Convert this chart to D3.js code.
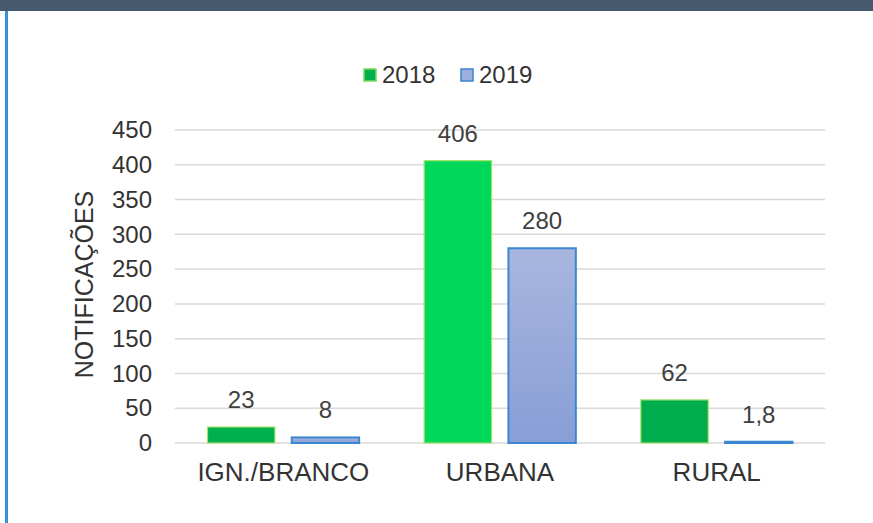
<!DOCTYPE html>
<html>
<head>
<meta charset="utf-8">
<script src="https://cdn.jsdelivr.net/npm/d3@7/dist/d3.min.js"></script>
<style>
  body { margin: 0; background: #fff; }
  svg { display: block; font-family: "Liberation Sans", Arial, sans-serif; }
</style>
</head>
<body>
<div id="chart"></div>
<script>
// Data
var categories = ["IGN./BRANCO", "URBANA", "RURAL"];
var series = ["2018", "2019"];
var values2018 = [23, 406, 62];
var values2019 = [8, 280, 1.8];
var labels2018 = ["23", "406", "62"];
var labels2019 = ["8", "280", "1,8"];
var yTicks = [0, 50, 100, 150, 200, 250, 300, 350, 400, 450];

var W = 873, H = 523;
var margin = { top: 130, right: 48, bottom: 80, left: 175 },
    width = W - margin.left - margin.right,
    height = H - margin.top - margin.bottom;

var svg = d3.select('#chart').append('svg')
    .attr('width', W)
    .attr('height', H);

// gradient for the 2019 bars
var defs = svg.append('defs');
var grad = defs.append('linearGradient')
    .attr('id', 'blueGrad')
    .attr('x1', 0).attr('y1', 0).attr('x2', 0).attr('y2', 1);
grad.append('stop').attr('offset', '0%').attr('stop-color', '#a8b6df');
grad.append('stop').attr('offset', '100%').attr('stop-color', '#889ed6');

// page frame: dark caption strip and blue left rule
svg.append('rect')
    .attr('x', 0).attr('y', 0)
    .attr('width', W).attr('height', 11)
    .attr('fill', '#465a6e');
svg.append('rect')
    .attr('x', 5).attr('y', 11)
    .attr('width', 3).attr('height', H - 11)
    .attr('fill', '#3591d8');

var g = svg.append('g')
    .attr('transform', 'translate(' + margin.left + ',' + margin.top + ')');

// Scales
var x0 = d3.scaleBand().domain(categories).range([0, width])
    .paddingInner(0.3).paddingOuter(0.15);
var x1 = d3.scaleBand().domain(series).range([0, x0.bandwidth()])
    .paddingInner(0.2);
var y = d3.scaleLinear().domain([0, 450]).range([height, 0]);

// Gridlines
g.selectAll('.grid')
    .data(yTicks)
    .enter().append('line')
    .attr('x1', 0).attr('x2', width)
    .attr('y1', function (d) { return y(d); })
    .attr('y2', function (d) { return y(d); })
    .attr('stroke', '#d9d9d9')
    .attr('stroke-width', 1.5);

// Y axis labels
var yAxis = g.append('g')
    .call(d3.axisLeft(y).tickValues(yTicks).tickSize(0).tickPadding(23));
yAxis.select('.domain').remove();
yAxis.selectAll('text')
    .style('font-size', '24px')
    .attr('fill', '#333');

// X axis labels
var xAxis = g.append('g')
    .attr('transform', 'translate(0,' + height + ')')
    .call(d3.axisBottom(x0).tickSize(0).tickPadding(20));
xAxis.select('.domain').remove();
xAxis.selectAll('text')
    .style('font-size', '26px')
    .attr('fill', '#333');

// Y axis title
svg.append('text')
    .attr('transform', 'translate(93,' + (margin.top + height / 2 - 2) + ') rotate(-90)')
    .attr('text-anchor', 'middle')
    .style('font-size', '25px')
    .attr('fill', '#333')
    .text('NOTIFICAÇÕES');

// Bars
var green = { "IGN./BRANCO": "#00b04e", "URBANA": "#00d85c", "RURAL": "#00ad4c" };

var rows = categories.map(function (c, i) {
  return [
    { cat: c, s: "2018", v: values2018[i], label: labels2018[i] },
    { cat: c, s: "2019", v: values2019[i], label: labels2019[i] }
  ];
});

var groups = g.selectAll('.grp')
    .data(rows)
    .enter().append('g')
    .attr('transform', function (d) { return 'translate(' + x0(d[0].cat) + ',0)'; });

groups.selectAll('rect')
    .data(function (d) { return d; })
    .enter().append('rect')
    .attr('x', function (d) { return x1(d.s); })
    .attr('y', function (d) { return y(d.v); })
    .attr('width', x1.bandwidth())
    .attr('height', function (d) { return Math.max(0, height - y(d.v)); })
    .attr('fill', function (d) { return d.s === "2018" ? green[d.cat] : 'url(#blueGrad)'; })
    .attr('stroke', function (d) { return d.s === "2018" ? '#a6e36a' : '#3a86d0'; })
    .attr('stroke-width', function (d) { return d.s === "2018" ? 1.2 : 2; });

groups.selectAll('.val')
    .data(function (d) { return d; })
    .enter().append('text')
    .attr('x', function (d) { return x1(d.s) + x1.bandwidth() / 2; })
    .attr('y', function (d) { return y(d.v) - 19; })
    .attr('text-anchor', 'middle')
    .style('font-size', '24px')
    .attr('fill', '#404040')
    .text(function (d) { return d.label; });

// Legend
var legend = svg.append('g').attr('transform', 'translate(363,68)');
var legItems = [
  { s: "2018", fill: '#00b04e', stroke: '#7ed957', x: 0 },
  { s: "2019", fill: '#a0b0de', stroke: '#3a86d0', x: 97 }
];
legItems.forEach(function (d) {
  legend.append('rect')
      .attr('x', d.x + 1).attr('y', 1)
      .attr('width', 12).attr('height', 12)
      .attr('fill', d.fill)
      .attr('stroke', d.stroke)
      .attr('stroke-width', 1.5);
  legend.append('text')
      .attr('x', d.x + 19).attr('y', 15)
      .style('font-size', '24px')
      .attr('fill', '#333')
      .text(d.s);
});
</script>
</body>
</html>
